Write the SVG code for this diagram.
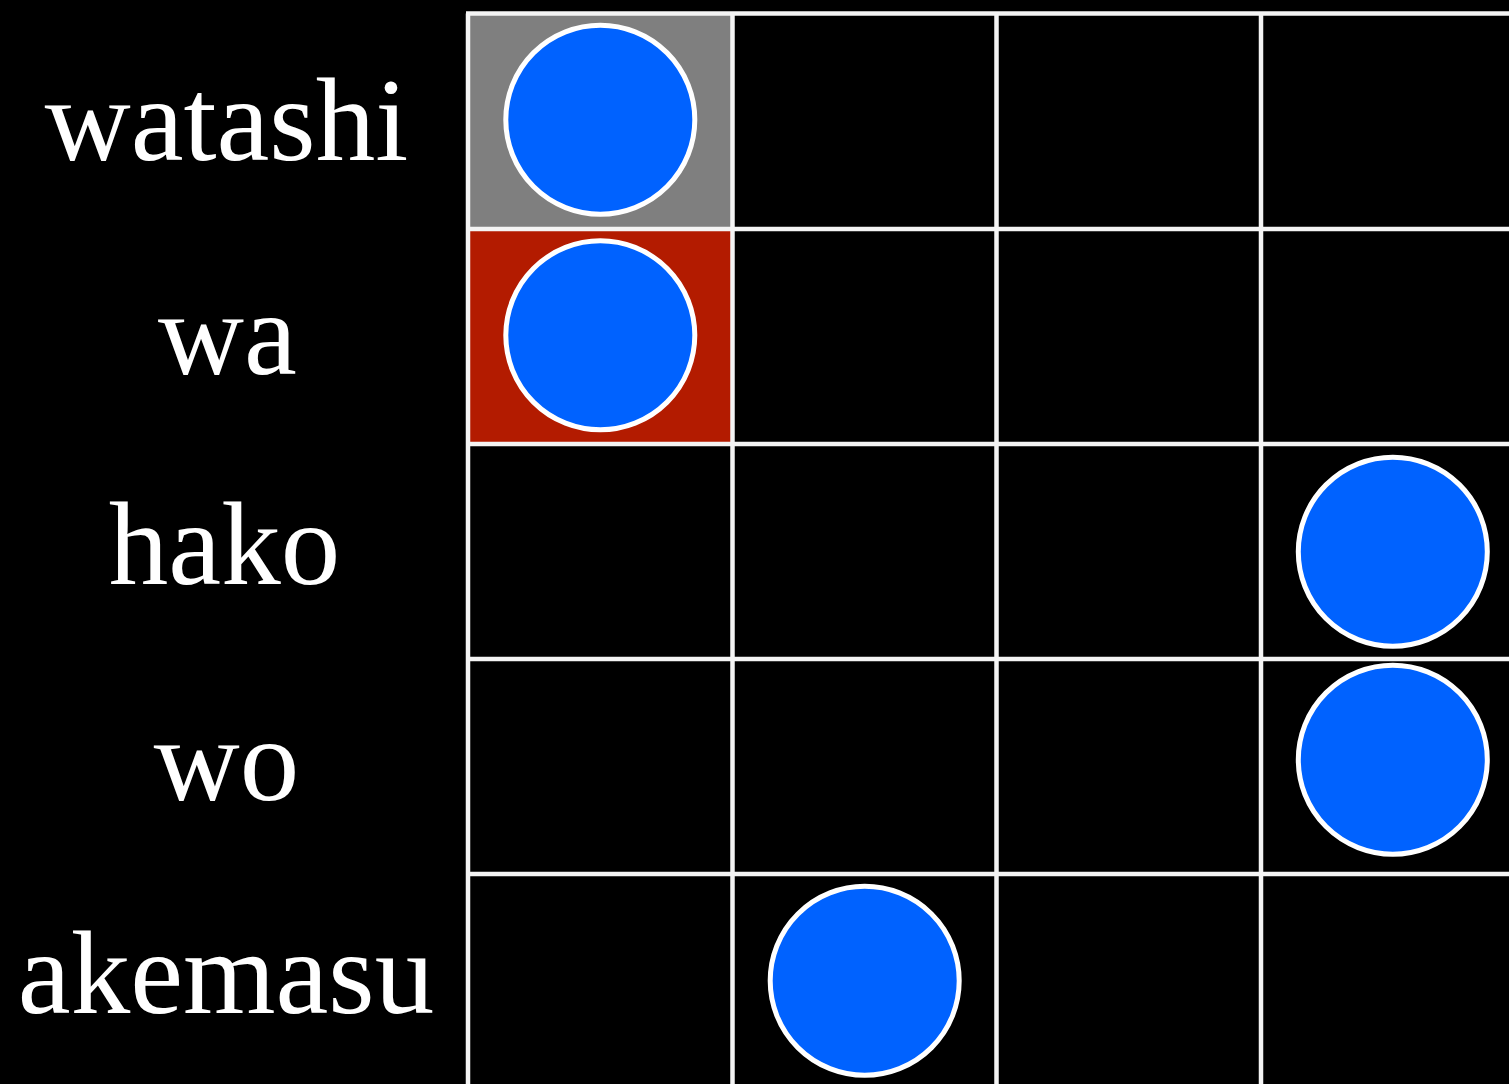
<svg xmlns="http://www.w3.org/2000/svg" width="1509" height="1084" viewBox="0 0 1509 1084">
  <style>
    .lbl { font-family: "Liberation Serif", "Times New Roman", serif; font-size: 119px; fill: #ffffff; text-anchor: middle; }
    .grid { stroke: #f4f4f4; stroke-width: 4.5; fill: none; }
    .dot { fill: #0062ff; stroke: #ffffff; stroke-width: 5; }
  </style>
  <rect x="0" y="0" width="1509" height="1084" fill="#000000"/>
  <g id="cells">
    <rect x="468" y="13.5" width="264.5" height="215.5" fill="#7f7f7f"/>
    <rect x="468" y="229" width="264.5" height="214.5" fill="#b31b00"/>
  </g>
  <g id="grid" class="grid">
    <line x1="468" y1="13.5" x2="468" y2="1084"/>
    <line x1="732.5" y1="13.5" x2="732.5" y2="1084"/>
    <line x1="996.5" y1="13.5" x2="996.5" y2="1084"/>
    <line x1="1261" y1="13.5" x2="1261" y2="1084"/>
    <line x1="466" y1="13.5" x2="1509" y2="13.5"/>
    <line x1="466" y1="229" x2="1509" y2="229"/>
    <line x1="466" y1="444" x2="1509" y2="444"/>
    <line x1="466" y1="659" x2="1509" y2="659"/>
    <line x1="466" y1="874" x2="1509" y2="874"/>
  </g>
  <g id="labels">
    <text id="label-watashi" class="lbl" x="226.5" y="160">watashi</text>
    <text id="label-wa" class="lbl" x="227.5" y="373.5">wa</text>
    <text id="label-hako" class="lbl" x="224.5" y="584">hako</text>
    <text id="label-wo" class="lbl" x="226.5" y="800">wo</text>
    <text id="label-akemasu" class="lbl" x="226" y="1013">akemasu</text>
  </g>
  <g id="dots">
    <circle id="dot-watashi" class="dot" cx="600.3" cy="119.7" r="94.5"/>
    <circle id="dot-wa" class="dot" cx="600.3" cy="335.3" r="94.5"/>
    <circle id="dot-hako" class="dot" cx="1392.8" cy="551.7" r="94.5"/>
    <circle id="dot-wo" class="dot" cx="1392.8" cy="759.7" r="94.5"/>
    <circle id="dot-akemasu" class="dot" cx="864.7" cy="980.8" r="94.5"/>
  </g>
</svg>
